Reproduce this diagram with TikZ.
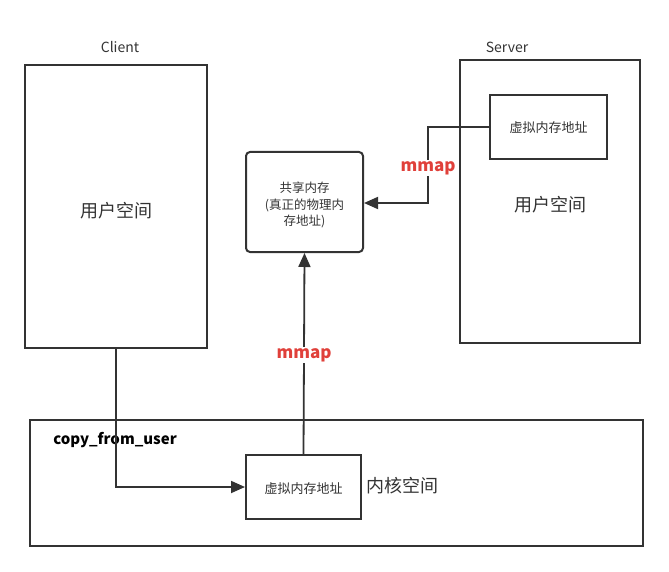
\documentclass[tikz,border=0pt]{standalone}
\usepackage{fontspec}
\setmainfont{Noto Sans CJK SC}
\usetikzlibrary{arrows.meta}
\definecolor{ln}{HTML}{333333}
\definecolor{mred}{HTML}{E0403A}
\begin{document}
\begin{tikzpicture}[x=1pt,y=-1pt,
  box/.style={draw=ln,line width=2pt,inner sep=0pt},
  conn/.style={draw=ln,line width=1.8pt,-{Triangle[length=14pt,width=12pt]}},
  lab/.style={text=ln,font=\fontsize{#1}{#1}\selectfont},
  lab/.default=15,
  red/.style={text=mred,font=\bfseries\fontsize{17}{17}\selectfont}]
\useasboundingbox (0,0) rectangle (669,572);
% Client
\node[box,minimum width=182pt,minimum height=283pt] (client) at (116,206.5) {};
\node[lab=14] (clientlab) at (120,47) {Client};
\node[lab=18] (cus) at (116,211) {用户空间};
% Server
\node[box,minimum width=180pt,minimum height=283pt] (server) at (550,201.5) {};
\node[lab=14] (serverlab) at (507,47) {Server};
\node[lab=18] (sus) at (550,205) {用户空间};
\node[box,minimum width=117pt,minimum height=64pt] (svaddr) at (548.5,127) {};
\node[lab=13] (svaddrlab) at (548.5,128) {虚拟内存地址};
% Shared
\node[box,rounded corners=4pt,minimum width=117pt,minimum height=100pt] (shared) at (304.5,202) {};
\node[lab=12.5,align=center,font=\fontsize{12.5}{16.5}\selectfont] (sharedlab) at (304.5,205) {共享内存\\(真正的物理内\\存地址)};
% Kernel
\node[box,minimum width=613pt,minimum height=126pt] (kernel) at (336.5,483) {};
\node[text=black,font=\bfseries\fontsize{15}{15}\selectfont] (cfu) at (115,440) {copy\_from\_user};
\node[box,minimum width=115pt,minimum height=64pt] (kvaddr) at (303.5,487) {};
\node[lab=13] (kvaddrlab) at (303.5,489) {虚拟内存地址};
\node[lab=18] (kus) at (402,486) {内核空间};
% connectors
\coordinate (c1) at (116,487);
\draw[conn] (client.south) -- (c1) -- (kvaddr.west);
\coordinate (s1) at (428,127);
\coordinate (s2) at (428,203);
\draw[conn] (svaddr.west) -- (s1) -- (s2) -- (shared.east |- s2);
\draw[conn] (kvaddr.north) -- (shared.south);
\node[red,fill=white,inner sep=1pt] (m1) at (428,168) {mmap};
\node[red,fill=white,inner sep=1pt] (m2) at (304,355) {mmap};
\end{tikzpicture}
\end{document}
